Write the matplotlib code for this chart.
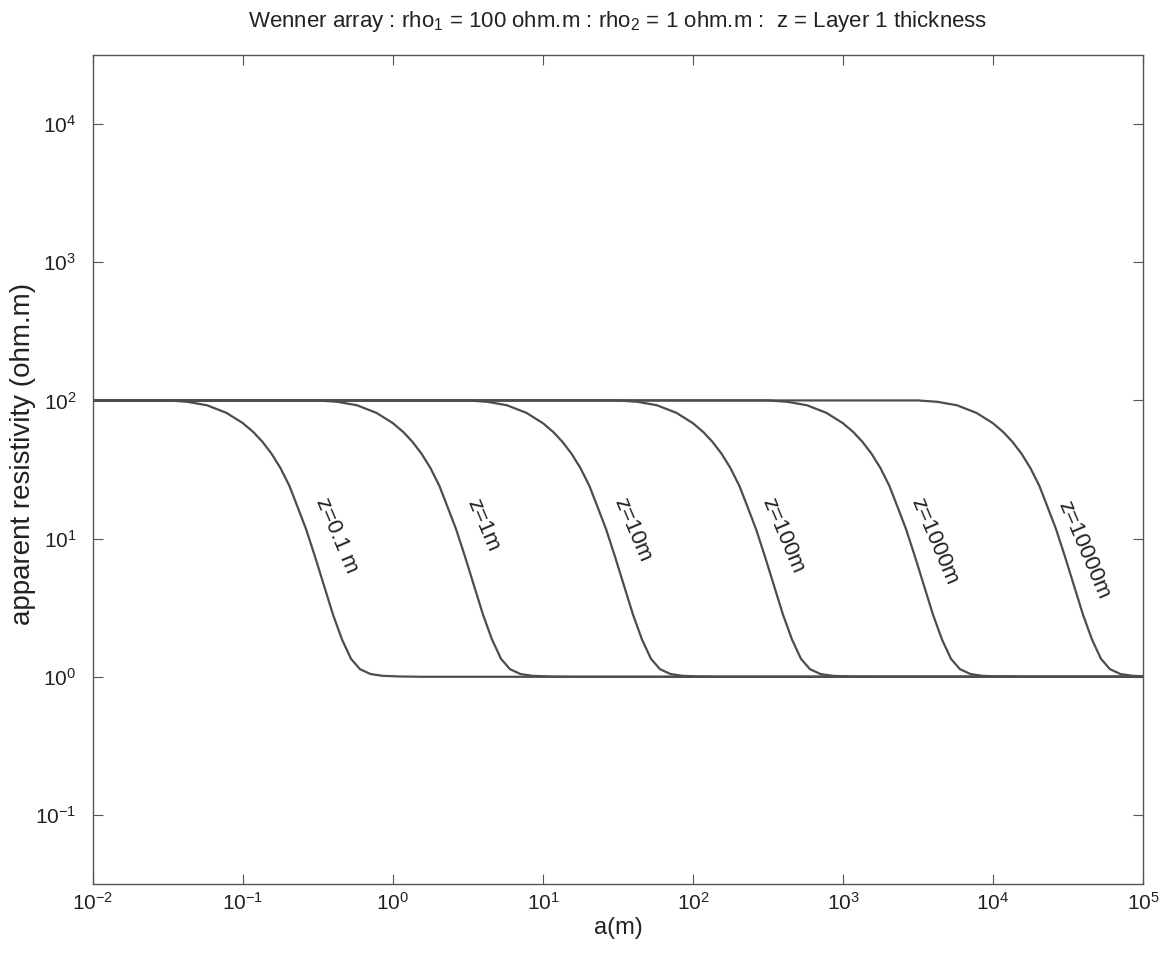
import numpy as np
import matplotlib
matplotlib.use("Agg")
import matplotlib.pyplot as plt

# layer 1 thickness of each curve (m)
thicknesses = [0.1, 1, 10, 100, 1000, 10000]
labels = ["z=0.1 m", "z=1m", "z=10m", "z=100m", "z=1000m", "z=10000m"]

# curve shape: log10(a/z) vs log10(apparent resistivity)
log_a_over_z = [-8.0, -0.50, -0.37, -0.24, -0.11, 0.00, 0.07, 0.13, 0.19,
                0.25, 0.31, 0.36, 0.42, 0.48, 0.54, 0.60, 0.66, 0.72,
                0.78, 0.85, 0.93, 1.05, 1.20, 8.0]
log_rho = [2.0, 2.0, 1.99, 1.965, 1.91, 1.835, 1.77, 1.70, 1.615,
           1.51, 1.38, 1.24, 1.07, 0.87, 0.66, 0.45, 0.27, 0.13,
           0.055, 0.02, 0.007, 0.002, 0.0, 0.0]

# label anchors (log10(a/z), log10(rho))
label_u = [0.625, 0.60, 0.595, 0.60, 0.605, 0.605]
label_r = [1.02, 1.10, 1.06, 1.02, 0.98, 0.92]

plt.rcParams["font.family"] = ["Liberation Sans", "DejaVu Sans"]

fig = plt.figure(figsize=(11.67, 9.55), dpi=100)
ax = fig.add_axes([0.0797, 0.0743, 0.8997, 0.8681])

line_color = "#4d4d4d"
u = np.array(log_a_over_z)
r = np.array(log_rho)
for z in thicknesses:
    ax.plot(z * 10 ** u, 10 ** r, color=line_color, linewidth=1.6)

for z, lab, lu, lr in zip(thicknesses, labels, label_u, label_r):
    ax.text(z * 10 ** lu, 10 ** lr, lab, rotation=-67, ha="center", va="center",
            fontsize=16, color="#222222", rotation_mode="anchor")

ax.set_xscale("log")
ax.set_yscale("log")
ax.set_xlim(1e-2, 1e5)
ax.set_ylim(10 ** -1.5, 10 ** 4.5)

ax.set_xticks([10.0 ** k for k in range(-2, 6)])
ax.set_yticks([10.0 ** k for k in range(-1, 5)])
ax.minorticks_off()
ax.tick_params(which="major", direction="in", length=7, width=0.8, color="#555555",
               top=True, right=True, labelsize=15, labelcolor="#222222")
ax.tick_params(axis="y", pad=12)
ax.tick_params(axis="x", pad=6)
for s in ax.spines.values():
    s.set_color("#555555")
    s.set_linewidth(1.0)

ax.set_xlabel("a(m)", fontsize=17, color="#222222", labelpad=2)
ax.set_ylabel("apparent resistivity (ohm.m)", fontsize=20, color="#222222")
ax.yaxis.set_label_coords(-0.054, 0.519)
ax.set_title(r"Wenner array : rho$_\mathregular{1}$ = 100 ohm.m : rho$_\mathregular{2}$ = 1 ohm.m :  z = Layer 1 thickness",
             fontsize=16, color="#222222", pad=20)

fig.savefig("out.png", dpi=100)
